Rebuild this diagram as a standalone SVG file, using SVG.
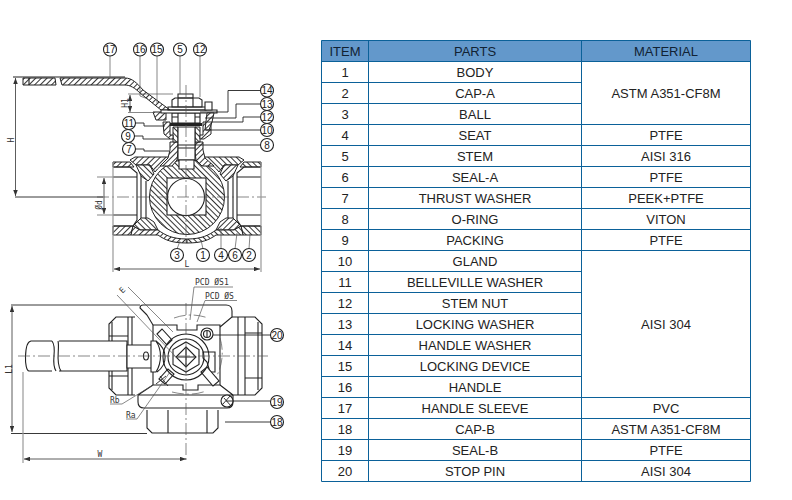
<svg xmlns="http://www.w3.org/2000/svg" width="792" height="500" viewBox="0 0 792 500">
<style>
text{font-family:"Liberation Sans",Arial,sans-serif;fill:#222}
.t{font-size:13px;text-anchor:middle}
.h{font-size:13px;text-anchor:middle;fill:#123}
.gl{stroke:#0b6199;stroke-width:1;fill:none}
.l{fill:none;stroke:#222;stroke-width:1.100}
.thin{fill:none;stroke:#555;stroke-width:.7}
.dk{fill:none;stroke:#222;stroke-width:.9}
.c{fill:none;stroke:#555;stroke-width:.7;stroke-dasharray:12 3 2 3}
.g{fill:none;stroke:#999;stroke-width:1.2}
.s{fill:url(#ha);stroke:#222;stroke-width:1}
.s2{fill:url(#hb);stroke:#222;stroke-width:1}
.bf{fill:#fff;stroke:#222;stroke-width:1.100}
.bt{font-size:10px;text-anchor:middle;fill:#222}
.d{font-size:8px;fill:#333;font-family:"DejaVu Sans Mono",monospace}
.ar{fill:none;stroke:#333;stroke-width:.8;marker-start:url(#a);marker-end:url(#a)}
</style>
<defs>
<pattern id="ha" width="4" height="4" patternUnits="userSpaceOnUse" patternTransform="rotate(45)"><rect width="4" height="4" fill="#fff"/><rect width="1" height="4" fill="#333"/></pattern>
<pattern id="hb" width="4" height="4" patternUnits="userSpaceOnUse" patternTransform="rotate(-45)"><rect width="4" height="4" fill="#fff"/><rect width="1" height="4" fill="#333"/></pattern>
<marker id="a" viewBox="0 0 8 6" refX="8" refY="3" markerWidth="6" markerHeight="4.500" orient="auto-start-reverse" markerUnits="userSpaceOnUse"><path d="M0 0L8 3L0 6z" fill="#333"/></marker>
<g id="half">
<path class="s" d="M113 162H130L134 167H113Z"/>
<path class="s" d="M113 226H133L131 235H113Z"/>
<path class="s" d="M130 160L135 157H172L168 162C162 164 158 168 155 172L150 165H136Z"/>
<path class="s2" d="M136 165H150L154 174L148 181L141 176Z"/>
<path class="s2" d="M133 226L141 218H148L154 222L158 230H140Z"/>
<path class="s" d="M131 235L133 226L140 230H158C165 235 172 239 187 239V243C172 243 165 240 158 235Z"/>
<path class="l" d="M113 167H130L137 173V220L133 226H113M113 177H137M113 215H137M141 176V218M146 181V218"/>
</g>
</defs>

<g id="table">
<rect x="321.500" y="40.500" width="429" height="21" fill="#6398cb"/>
<path class="gl" d="M321.500 40.500H750.500V481.500H321.500ZM368.500 40.500V481.500M581.500 40.500V481.500M321.500 61.500H750.500M321.500 82.500H581.500M321.500 103.500H581.500M321.500 124.500H750.500M321.500 145.500H750.500M321.500 166.500H750.500M321.500 187.500H750.500M321.500 208.500H750.500M321.500 229.500H750.500M321.500 250.500H750.500M321.500 271.500H581.500M321.500 292.500H581.500M321.500 313.500H581.500M321.500 334.500H581.500M321.500 355.500H581.500M321.500 376.500H581.500M321.500 397.500H750.500M321.500 418.500H750.500M321.500 439.500H750.500M321.500 460.500H750.500"/>
<text class="h" x="345" y="55.500">ITEM</text><text class="h" x="475" y="55.500">PARTS</text><text class="h" x="666" y="55.500">MATERIAL</text>
<text class="t" x="345" y="76.500">1</text><text class="t" x="475" y="76.500">BODY</text>
<text class="t" x="345" y="97.500">2</text><text class="t" x="475" y="97.500">CAP-A</text>
<text class="t" x="345" y="118.500">3</text><text class="t" x="475" y="118.500">BALL</text>
<text class="t" x="345" y="139.500">4</text><text class="t" x="475" y="139.500">SEAT</text>
<text class="t" x="345" y="160.500">5</text><text class="t" x="475" y="160.500">STEM</text>
<text class="t" x="345" y="181.500">6</text><text class="t" x="475" y="181.500">SEAL-A</text>
<text class="t" x="345" y="202.500">7</text><text class="t" x="475" y="202.500">THRUST WASHER</text>
<text class="t" x="345" y="223.500">8</text><text class="t" x="475" y="223.500">O-RING</text>
<text class="t" x="345" y="244.500">9</text><text class="t" x="475" y="244.500">PACKING</text>
<text class="t" x="345" y="265.500">10</text><text class="t" x="475" y="265.500">GLAND</text>
<text class="t" x="345" y="286.500">11</text><text class="t" x="475" y="286.500">BELLEVILLE WASHER</text>
<text class="t" x="345" y="307.500">12</text><text class="t" x="475" y="307.500">STEM NUT</text>
<text class="t" x="345" y="328.500">13</text><text class="t" x="475" y="328.500">LOCKING WASHER</text>
<text class="t" x="345" y="349.500">14</text><text class="t" x="475" y="349.500">HANDLE WASHER</text>
<text class="t" x="345" y="370.500">15</text><text class="t" x="475" y="370.500">LOCKING DEVICE</text>
<text class="t" x="345" y="391.500">16</text><text class="t" x="475" y="391.500">HANDLE</text>
<text class="t" x="345" y="412.500">17</text><text class="t" x="475" y="412.500">HANDLE SLEEVE</text>
<text class="t" x="345" y="433.500">18</text><text class="t" x="475" y="433.500">CAP-B</text>
<text class="t" x="345" y="454.500">19</text><text class="t" x="475" y="454.500">SEAL-B</text>
<text class="t" x="345" y="475.500">20</text><text class="t" x="475" y="475.500">STOP PIN</text>
<text class="t" x="666" y="97.500">ASTM A351-CF8M</text>
<text class="t" x="666" y="139.500">PTFE</text>
<text class="t" x="666" y="160.500">AISI 316</text>
<text class="t" x="666" y="181.500">PTFE</text>
<text class="t" x="666" y="202.500">PEEK+PTFE</text>
<text class="t" x="666" y="223.500">VITON</text>
<text class="t" x="666" y="244.500">PTFE</text>
<text class="t" x="666" y="328.500">AISI 304</text>
<text class="t" x="666" y="412.500">PVC</text>
<text class="t" x="666" y="433.500">ASTM A351-CF8M</text>
<text class="t" x="666" y="454.500">PTFE</text>
<text class="t" x="666" y="475.500">AISI 304</text>
</g>

<g id="side-view">
<!-- handle -->
<path class="s" d="M23 78H55L56 85H23Z"/>
<path class="s" d="M60 78H125C132 78 137 83 143 90L170 110H161L140 93C135 88 130 85 125 85H62Z"/>
<path class="l" d="M13 77H125M29 78V85"/>
<!-- ball -->
<circle class="s2" cx="187" cy="197" r="37.500"/>
<rect class="bf" x="167" y="178" width="39" height="37"/>
<circle class="bf" cx="186" cy="197" r="18.500"/>
<!-- body halves -->
<use href="#half"/>
<use href="#half" transform="matrix(-1 0 0 1 374 0)"/>
<!-- neck -->
<path class="s" d="M170 142H178V152L177 160L172 166H160L168 158L170 150Z"/>
<path class="s" d="M203 142H195V152L196 160L202 166H214L205 158L203 150Z"/>
<path class="s2" d="M173 127H178V142H173ZM195 127H200V142H195Z"/>
<path class="bf" d="M178 127H195V160H178Z"/>
<path class="l" d="M178 145H195M178 148H195"/>
<path class="bf" d="M179 160V169H194V160Z"/>
<!-- gland and washers -->
<path class="s" d="M163 122H170V135H173V139H170L164 134Z"/>
<path class="s" d="M211 122H203V135H200V139H204L211 134Z"/>
<rect x="170" y="123" width="32" height="3" fill="#222"/>
<path class="bf" d="M172 113H200V123H172Z"/>
<path class="l" d="M178 113V123M195 113V123M172 117H178M195 117H200"/>
<path class="s" d="M153 112H166V120H156Z"/>
<path class="bf" d="M161 110H217V113H161Z"/>
<path class="bf" d="M172 100L175 98H199L202 100V107H172Z"/>
<path class="l" d="M178 94H193V98H178ZM178 98V107M193 98V107M168 107H206V110H168Z"/>
<path class="bf" d="M205 102H212V110H205Z"/>
<path class="s" d="M207 113H214L212 122L209 130H205Z"/>
<!-- centre lines -->
<path class="c" d="M97 197H266"/>
<path class="c" d="M186 85V245"/>
<!-- dims -->
<path class="dk" d="M15 197H103"/>
<path class="ar" d="M15.500 78V196"/>
<text class="d" transform="rotate(-90 12 140)" x="12" y="142" text-anchor="middle">H</text>
<path class="thin" d="M128 94H173M128 112.500H155"/>
<path class="ar" d="M130 95V112"/>
<text class="d" transform="rotate(-90 126 103)" x="126" y="105" text-anchor="middle">H1</text>
<path class="thin" d="M97 177H113M97 215H113"/>
<path class="ar" d="M104 178V214"/>
<text class="d" transform="rotate(-90 100 205)" x="100" y="207" text-anchor="middle">Ød</text>
<path class="g" d="M113 162V272M261 162V272"/>
<path class="ar" d="M114 269H260"/>
<text class="d" x="187" y="267" text-anchor="middle">L</text>
</g>

<g id="connectors">
<path class="thin" d="M110 56V77M140 56V96L148 99M157 56V103M180 56V94M200 56V97"/>
<path class="dk" d="M260 90.500H228V112H200M260 104H236V118H205M260 117H243V122H207M260 130H206M260 145H195"/>
<path class="dk" d="M135 123H144V126H165M134 136H143V139H170M135 149H144V151H169"/>
<path class="thin" d="M177 249L180 241M203 249L201 240M221 249L221 228M235 249L237 233M249 249L250 234"/>
<path class="dk" d="M200 335H271M233 401H271M225 422H271"/>
</g>

<g id="b17"><circle class="bf" cx="110" cy="49.500" r="6.500"/><text class="bt" x="110" y="53">17</text></g>
<g id="b16"><circle class="bf" cx="140" cy="49.500" r="6.500"/><text class="bt" x="140" y="53">16</text></g>
<g id="b15"><circle class="bf" cx="157" cy="49.500" r="6.500"/><text class="bt" x="157" y="53">15</text></g>
<g id="b5"><circle class="bf" cx="180" cy="49.500" r="6.500"/><text class="bt" x="180" y="53">5</text></g>
<g id="b12a"><circle class="bf" cx="200" cy="49.500" r="6.500"/><text class="bt" x="200" y="53">12</text></g>
<g id="b14"><circle class="bf" cx="267" cy="90.500" r="6.500"/><text class="bt" x="267" y="94">14</text></g>
<g id="b13"><circle class="bf" cx="267" cy="104" r="6.500"/><text class="bt" x="267" y="107.500">13</text></g>
<g id="b12b"><circle class="bf" cx="267" cy="117" r="6.500"/><text class="bt" x="267" y="120.500">12</text></g>
<g id="b10"><circle class="bf" cx="267" cy="130" r="6.500"/><text class="bt" x="267" y="133.500">10</text></g>
<g id="b8"><circle class="bf" cx="267" cy="145" r="6.500"/><text class="bt" x="267" y="148.500">8</text></g>
<g id="b11"><circle class="bf" cx="129" cy="123" r="6.500"/><text class="bt" x="129" y="126.500">11</text></g>
<g id="b9"><circle class="bf" cx="128" cy="136" r="6.500"/><text class="bt" x="128" y="139.500">9</text></g>
<g id="b7"><circle class="bf" cx="129" cy="149" r="6.500"/><text class="bt" x="129" y="152.500">7</text></g>
<g id="b3"><circle class="bf" cx="177" cy="255" r="6.500"/><text class="bt" x="177" y="258.500">3</text></g>
<g id="b1"><circle class="bf" cx="203" cy="255" r="6.500"/><text class="bt" x="203" y="258.500">1</text></g>
<g id="b4"><circle class="bf" cx="221" cy="255" r="6.500"/><text class="bt" x="221" y="258.500">4</text></g>
<g id="b6"><circle class="bf" cx="235" cy="255" r="6.500"/><text class="bt" x="235" y="258.500">6</text></g>
<g id="b2"><circle class="bf" cx="249" cy="255" r="6.500"/><text class="bt" x="249" y="258.500">2</text></g>

<g id="plan-view">
<!-- caps -->
<path class="l" d="M135 317H116L109 324V388L116 395H135M232 317H255L262 324V388L255 395H232"/>
<path class="l" d="M109 336H128M109 376H128M112 322V390M128 317V395M132 317V395M238 317V395M245 317V395M258 322V390M245 333H262M245 378H262"/>
<path class="l" d="M147 410V428L152 433H213L218 428V410M168 410V433M207 410V433"/>
<!-- body -->
<path class="l" d="M147 315L140 308Q140 305 143 305H226Q232 305 232 311V317L220 327M233 395H138V402Q138 408 144 408H227Q233 408 233 402V395M138 395L153 385M233 395L220 385"/>
<!-- inner square -->
<path class="l" d="M153 325H177V330H197V325H220V385H198V390H183V385H153Z"/>
<path class="l" d="M147 315L153 325"/>
<path class="c" d="M174 318C185 314 197 314 208 318M220 338C224 350 223 368 214 380M172 392C184 395 196 395 206 391"/>
<!-- stop block -->
<path class="bf" d="M203 352H215V372H210L207 362L203 358Z"/>
<!-- slots -->
<path class="bf" d="M157 334L162 329L172 340L167 345Z"/>
<path class="bf" d="M159 379L165 384L174 374L168 369Z"/>
<path class="bf" d="M201 372L207 367L219 381L213 386Z"/>
<path class="dk" d="M160 376L168 386M156 384L166 376"/>
<!-- hub -->
<circle class="l" cx="186" cy="357" r="23"/>
<circle class="l" cx="186" cy="357" r="18"/>
<path class="bf" d="M186 342L199 349.500V364.500L186 372L173 364.500V349.500Z"/>
<path class="bf" d="M186 347L196 357L186 367L176 357Z"/>
<path class="l" d="M176 357H196M186 347V367"/>
<!-- stop pin -->
<circle class="bf" cx="207" cy="334" r="6"/>
<circle class="l" cx="207" cy="334" r="3.500"/>
<path class="l" d="M207 331V337"/>
<!-- seal B -->
<circle class="bf" cx="227" cy="401" r="6"/>
<path class="dk" d="M223 404L230 396M224 398L231 406M226 401L233 401"/>
<!-- handle -->
<path class="bf" d="M127 341H31C24 342 24 371 29 371H127Z"/>
<path fill="#fff" stroke="none" d="M52 338H59V374H52Z"/>
<path class="l" d="M52 341C58 349 50 362 56 371M58 341C60 349 55 362 61 371"/>
<path class="bf" d="M127 345H152V368H127Z"/>
<path class="bf" d="M151 341H156C162 350 162 362 156 372H151Z"/>
<path class="l" d="M156 341C168 350 168 364 157 372"/>
<ellipse class="l" cx="146" cy="356" rx="2.500" ry="4"/>
<!-- centre -->
<path class="c" d="M18 356H268"/>
<path class="c" d="M186 303V463"/>
<!-- dims -->
<path class="dk" d="M11 305H140M11 433.500H147"/>
<path class="ar" d="M12 306V432"/>
<text class="d" transform="rotate(-90 10 369)" x="10" y="371" text-anchor="middle">L1</text>
<path class="g" d="M23 372V463"/>
<path class="ar" d="M24 459H186"/>
<text class="d" x="100" y="457" text-anchor="middle">W</text>
<path class="thin" d="M128 287L173 332M117 295L177 358"/>
<text class="d" transform="rotate(-45 122 290)" x="122" y="293" text-anchor="middle">E</text>
<path class="thin" d="M190 320L194 287H233M197 322L205 300.500H237"/>
<text class="d" x="195" y="285">PCD ØS1</text>
<text class="d" x="205" y="298.500">PCD ØS</text>
<path class="thin" d="M110 404H122L153 385M126 419H137L170 372"/>
<text class="d" x="110" y="403">Rb</text>
<text class="d" x="126" y="418">Ra</text>
</g>
<g id="b20"><circle class="bf" cx="277" cy="335" r="6.500"/><text class="bt" x="277" y="338.500">20</text></g>
<g id="b19"><circle class="bf" cx="277" cy="402" r="6.500"/><text class="bt" x="277" y="405.500">19</text></g>
<g id="b18"><circle class="bf" cx="277" cy="422" r="6.500"/><text class="bt" x="277" y="425.500">18</text></g>
</svg>
